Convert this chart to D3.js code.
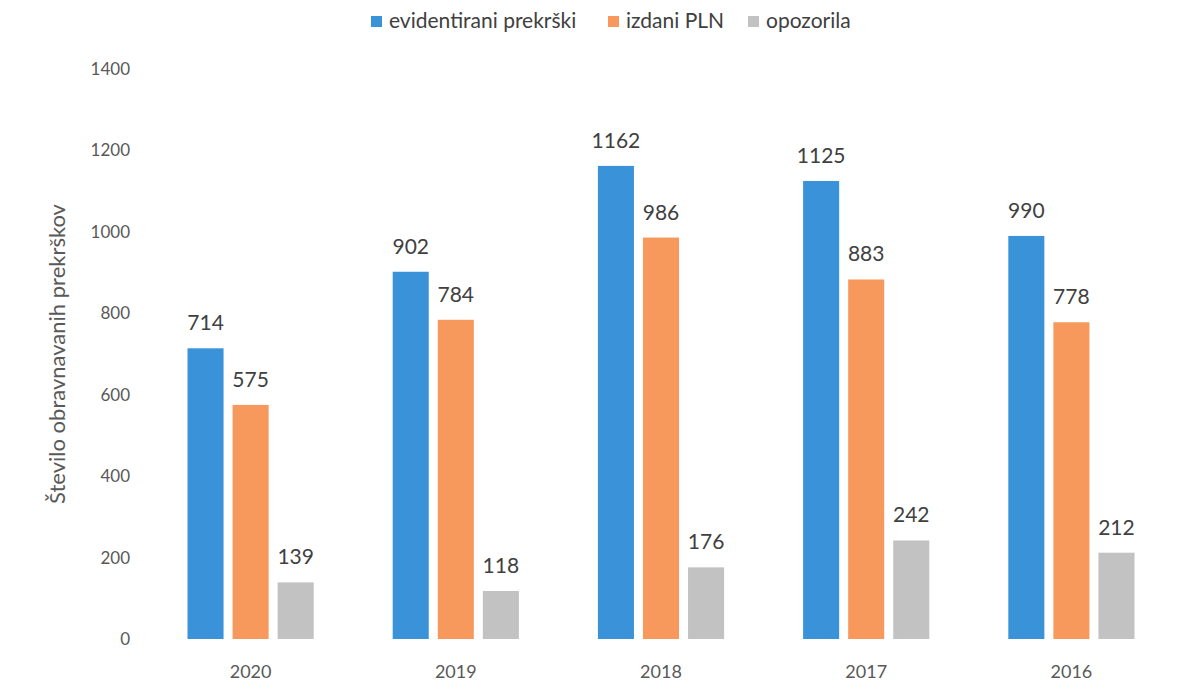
<!DOCTYPE html>
<html>
<head>
<meta charset="utf-8">
<script src="https://cdn.jsdelivr.net/npm/d3@7"></script>
<style>
  body { margin: 0; background: #fff; }
  svg { font-family: Lato, "Open Sans", sans-serif; }
</style>
</head>
<body>
<svg id="svg" width="1196" height="690"></svg>
<script>
// DATA
var years = ["2020", "2019", "2018", "2017", "2016"];
var seriesNames = ["evidentirani prekrški", "izdani PLN", "opozorila"];
var evidentirani = [714, 902, 1162, 1125, 990];
var izdani = [575, 784, 986, 883, 778];
var opozorila = [139, 118, 176, 242, 212];
var yTicks = [0, 200, 400, 600, 800, 1000, 1200, 1400];
var colors = ["#3a93d9", "#f7985c", "#c2c2c2"];

var values = [evidentirani, izdani, opozorila];
var rows = years.map(function (y, i) {
  return { year: y, vals: values.map(function (s) { return s[i]; }) };
});

var svg = d3.select("#svg");

var x0 = d3.scaleBand()
  .domain(years)
  .range([148, 1174])
  .paddingInner(0.385)
  .paddingOuter(0.1925);

var x1 = d3.scaleBand()
  .domain(d3.range(seriesNames.length))
  .range([0, x0.bandwidth()])
  .paddingInner(0.2)
  .paddingOuter(0);

var y = d3.scaleLinear()
  .domain([0, 1400])
  .range([639, 69]);

// y tick labels (no axis line, no gridlines)
svg.append("g")
  .selectAll("text")
  .data(yTicks)
  .enter().append("text")
    .attr("x", 130)
    .attr("y", function (d) { return y(d); })
    .attr("dy", "0.35em")
    .attr("text-anchor", "end")
    .attr("fill", "#595959")
    .attr("font-size", 17)
    .text(function (d) { return d; });

// y title
svg.append("text")
  .attr("transform", "translate(65," + ((y(0) + y(1400)) / 2) + ") rotate(-90)")
  .attr("text-anchor", "middle")
  .attr("fill", "#595959")
  .attr("font-size", 22)
  .text("Število obravnavanih prekrškov");

// x labels
svg.append("g")
  .selectAll("text")
  .data(years)
  .enter().append("text")
    .attr("x", function (d) { return x0(d) + x0.bandwidth() / 2; })
    .attr("y", 678)
    .attr("text-anchor", "middle")
    .attr("fill", "#595959")
    .attr("font-size", 18)
    .text(function (d) { return d; });

// bars
var groups = svg.append("g")
  .selectAll("g")
  .data(rows)
  .enter().append("g")
    .attr("transform", function (d) { return "translate(" + x0(d.year) + ",0)"; });

groups.selectAll("rect")
  .data(function (d) { return d.vals; })
  .enter().append("rect")
    .attr("x", function (d, i) { return x1(i); })
    .attr("y", function (d) { return y(d); })
    .attr("width", x1.bandwidth())
    .attr("height", function (d) { return y(0) - y(d); })
    .attr("fill", function (d, i) { return colors[i]; });

groups.selectAll("text")
  .data(function (d) { return d.vals; })
  .enter().append("text")
    .attr("x", function (d, i) { return x1(i) + x1.bandwidth() / 2; })
    .attr("y", function (d) { return y(d) - 18; })
    .attr("text-anchor", "middle")
    .attr("fill", "#404040")
    .attr("font-size", 21)
    .text(function (d) { return d; });

// legend
var legendX = [371, 608, 748];
var legend = svg.append("g")
  .selectAll("g")
  .data(seriesNames)
  .enter().append("g")
    .attr("transform", function (d, i) { return "translate(" + legendX[i] + ",0)"; });

legend.append("rect")
  .attr("x", 0)
  .attr("y", 16)
  .attr("width", 11)
  .attr("height", 11)
  .attr("fill", function (d, i) { return colors[i]; });

legend.append("text")
  .attr("x", 18)
  .attr("y", 28)
  .attr("fill", "#404040")
  .attr("font-size", 21)
  .text(function (d) { return d; });
</script>
</body>
</html>
